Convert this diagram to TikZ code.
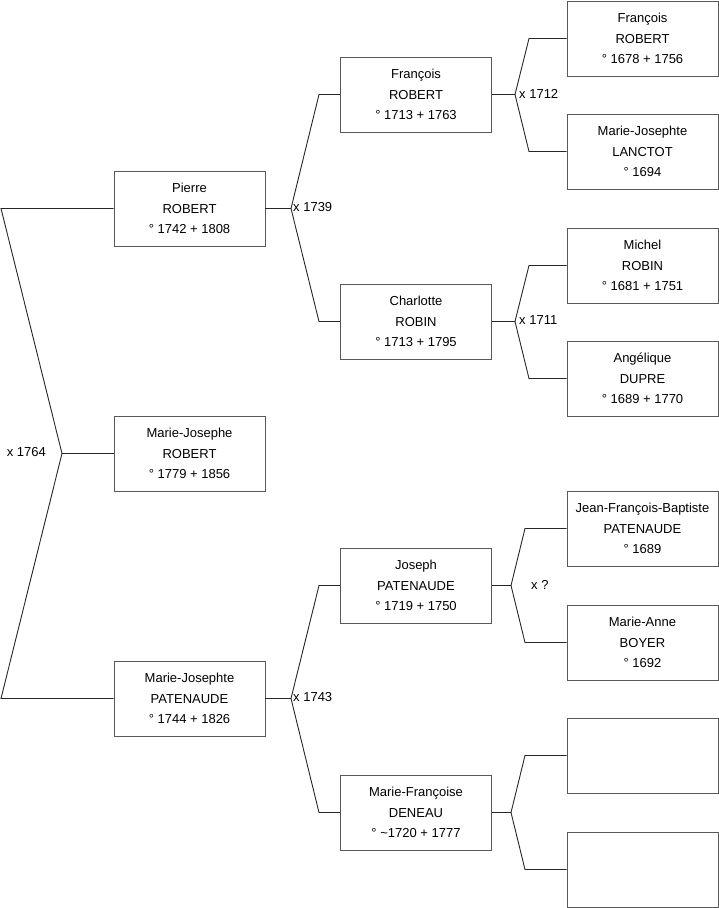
\documentclass[tikz,border=0pt]{standalone}
\usepackage{fontspec}
\setmainfont{Liberation Sans}
\begin{document}
\begin{tikzpicture}[x=1pt,y=-1pt,
  person/.style={draw=black!65,line width=0.9pt,minimum width=151pt,minimum height=75pt,
    inner sep=0pt,align=center,font=\fontsize{13}{20.3}\selectfont},
  link/.style={draw=black!85,line width=0.9pt},
  mar/.style={font=\fontsize{13}{14}\selectfont,inner sep=0pt}]
\useasboundingbox (0,0) rectangle (719,908);
% generation 1
\node[person](pr) at (189.5,208.5){Pierre\\ROBERT\\° 1742 + 1808};
\node[person](mjr) at (189.5,453.5){Marie-Josephe\\ROBERT\\° 1779 + 1856};
\node[person](mjp) at (189.5,698.5){Marie-Josephte\\PATENAUDE\\° 1744 + 1826};
% generation 2
\node[person](fr) at (416,94.5){François\\ROBERT\\° 1713 + 1763};
\node[person](cr) at (416,321.5){Charlotte\\ROBIN\\° 1713 + 1795};
\node[person](jp) at (416,585.5){Joseph\\PATENAUDE\\° 1719 + 1750};
\node[person](mfd) at (416,812.5){Marie-Françoise\\DENEAU\\° \textasciitilde1720 + 1777};
% generation 3
\node[person](fr2) at (642.5,38.5){François\\ROBERT\\° 1678 + 1756};
\node[person](mjl) at (642.5,151.5){Marie-Josephte\\LANCTOT\\° 1694};
\node[person](mr) at (642.5,265.5){Michel\\ROBIN\\° 1681 + 1751};
\node[person](ad) at (642.5,378.5){Angélique\\DUPRE\\° 1689 + 1770};
\node[person](jfb) at (642.5,528.5){Jean-François-Baptiste\\PATENAUDE\\° 1689};
\node[person](mab) at (642.5,642.5){Marie-Anne\\BOYER\\° 1692};
\node[person](e1) at (642.5,755.5){};
\node[person](e2) at (642.5,869.5){};
% junctions
\coordinate(t0) at (1,208.5);
\coordinate(j0) at (62,453.5);
\coordinate(b0) at (1,698.5);
\coordinate(j1) at (291,208.5);
\coordinate(t1) at (319,94.5);
\coordinate(b1) at (319,321.5);
\coordinate(j2) at (291,698.5);
\coordinate(t2) at (319,585.5);
\coordinate(b2) at (319,812.5);
\coordinate(j3) at (515,94.5);
\coordinate(t3) at (529,38.5);
\coordinate(b3) at (529,151.5);
\coordinate(j4) at (515,321.5);
\coordinate(t4) at (529,265.5);
\coordinate(b4) at (529,378.5);
\coordinate(j5) at (511,585.5);
\coordinate(t5) at (525,528.5);
\coordinate(b5) at (525,642.5);
\coordinate(j6) at (511,812.5);
\coordinate(t6) at (525,755.5);
\coordinate(b6) at (525,869.5);
% links
\draw[link](pr.west) -- (t0) -- (j0) -- (b0) -- (mjp.west);
\draw[link](j0) -- (mjr.west);
\draw[link](pr.east) -- (j1);
\draw[link](fr.west) -- (t1) -- (j1) -- (b1) -- (cr.west);
\draw[link](mjp.east) -- (j2);
\draw[link](jp.west) -- (t2) -- (j2) -- (b2) -- (mfd.west);
\draw[link](fr.east) -- (j3);
\draw[link](fr2.west) -- (t3) -- (j3) -- (b3) -- (mjl.west);
\draw[link](cr.east) -- (j4);
\draw[link](mr.west) -- (t4) -- (j4) -- (b4) -- (ad.west);
\draw[link](jp.east) -- (j5);
\draw[link](jfb.west) -- (t5) -- (j5) -- (b5) -- (mab.west);
\draw[link](mfd.east) -- (j6);
\draw[link](e1.west) -- (t6) -- (j6) -- (b6) -- (e2.west);
% marriages
\node[mar,anchor=east](m0) at (46,452.5){x 1764};
\node[mar,anchor=west](m1) at (293,207.5){x 1739};
\node[mar,anchor=west](m2) at (293,697.5){x 1743};
\node[mar,anchor=west](m3) at (519,93.5){x 1712};
\node[mar,anchor=west](m4) at (519,320.5){x 1711};
\node[mar,anchor=west](m5) at (531,584.5){x ?};
\end{tikzpicture}
\end{document}
